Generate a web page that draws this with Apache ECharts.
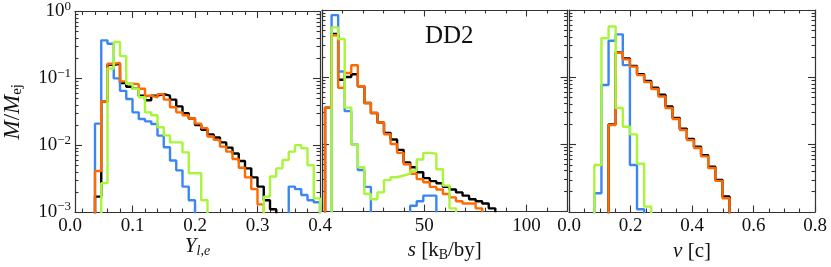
<!DOCTYPE html>
<html><head><meta charset="utf-8">
<script src="https://cdn.jsdelivr.net/npm/echarts@6/dist/echarts.min.js"></script>
<style>html,body{margin:0;padding:0;background:#fff}#c{width:831px;height:267px}</style>
</head><body><div id="c"></div>
<script>
// ================= DATA =================
// Panel 1 : Y_e histogram (bin edges)
const yeEdges = [0.03,0.04,0.05,0.06,0.07,0.08,0.09,0.10,0.11,0.12,0.13,0.14,0.15,0.16,0.17,0.18,0.19,0.20,0.21,0.22,0.23,0.24,0.25,0.26,0.27,0.28,0.29,0.30,0.31,0.32,0.33,0.34,0.35,0.36,0.37,0.38,0.39,0.40];
const yeBlack  = [0,0.0017,0.045,0.16,0.165,0.085,0.075,0.070,0.055,0.047,0.055,0.058,0.055,0.048,0.038,0.030,0.025,0.020,0.017,0.0145,0.013,0.011,0.0092,0.0075,0.0058,0.0045,0.0033,0.0024,0.0015,0.0011,0,0,0,0,0,0,0];
const yeOrange = [0,0.0041,0.045,0.165,0.17,0.09,0.083,0.082,0.070,0.055,0.052,0.058,0.048,0.037,0.031,0.028,0.025,0.021,0.018,0.0135,0.012,0.0095,0.0080,0.0062,0.0046,0.0033,0.0022,0.0013,0,0,0,0,0,0,0,0,0];
const yeBlue   = [0,0.021,0.37,0.33,0.10,0.065,0.049,0.031,0.0246,0.0227,0.0207,0.0139,0.0093,0.0059,0.0042,0.0024,0.0015,0,0,0,0,0,0,0,0,0,0,0,0,0,0,0,0.0024,0.0022,0.0018,0.0015,0.0014];
const yeGreen  = [0,0,0.0027,0.14,0.35,0.215,0.083,0.07,0.052,0.031,0.028,0.0185,0.014,0.011,0.011,0.0078,0.0038,0.0038,0.0015,0,0,0,0,0,0,0,0,0,0.0017,0.0034,0.0045,0.006,0.008,0.010,0.009,0.005,0.0016];

// Panel 2 : entropy s histogram
const sEdges = [1.5,4.7,7.9,11.1,14.3,17.5,20.7,23.9,27.1,30.3,33.5,36.7,39.9,43.1,46.3,49.5,52.7,55.9,59.1,62.3,65.5,68.7,71.9,75.1,78.3,81.5,84.7];
const sBlack  = [0.035,0.44,0.091,0.10,0.11,0.073,0.041,0.029,0.021,0.0147,0.0117,0.0082,0.0053,0.0045,0.0038,0.0031,0.0028,0.0026,0.0023,0.0021,0.0019,0.0017,0.0015,0.0014,0.0013,0.0011];
const sOrange = [0.035,0.42,0.069,0.115,0.15,0.073,0.041,0.029,0.021,0.014,0.010,0.0074,0.005,0.0036,0.003,0.0027,0.0023,0.0021,0.0018,0.0016,0.0014,0.0013,0.0013,0.0011,0,0];
const sBlue   = [0,0.84,0.121,0.031,0.0099,0.0041,0.0023,0,0,0,0,0,0,0.0012,0.0014,0.0017,0.0017,0,0,0,0,0,0,0,0,0];
const sGreen  = [0,0.55,0.37,0.035,0.0099,0.0045,0.0018,0.0015,0.0019,0.0029,0.0032,0.0034,0.0036,0.004,0.0059,0.0074,0.0072,0.0042,0.0024,0.0011,0,0,0,0,0,0];

// Panel 3 : velocity v histogram
const vEdges = [0.0824,0.1055,0.1287,0.1518,0.1750,0.1981,0.2212,0.2444,0.2675,0.2907,0.3138,0.3369,0.3601,0.3832,0.4064,0.4295,0.4526,0.4758,0.4989,0.5221];
const vBlack  = [0,0,0.020,0.235,0.19,0.147,0.111,0.088,0.070,0.055,0.037,0.025,0.0172,0.0122,0.0093,0.0070,0.0047,0.0030,0.0017];
const vOrange = [0,0,0.0196,0.232,0.185,0.144,0.108,0.085,0.067,0.052,0.035,0.024,0.0165,0.0117,0.0089,0.0067,0.0045,0.0029,0.0016];
const vBlue   = [0.0019,0.077,0.35,0.435,0.152,0.005,0.0011,0,0,0,0,0,0,0,0,0,0,0,0];
const vGreen  = [0.005,0.38,0.57,0.035,0.0185,0.0142,0.0052,0.0012,0,0,0,0,0,0,0,0,0,0,0];

// Ticks / labels
const yMinorTicks = [0.002,0.003,0.004,0.005,0.006,0.007,0.008,0.009,0.02,0.03,0.04,0.05,0.06,0.07,0.08,0.09,0.2,0.3,0.4,0.5,0.6,0.7,0.8,0.9];
const p1Labels = [0.0,0.1,0.2,0.3,0.4];
const p1Major = [0.1,0.2,0.3,0.4];
const p1Minor = [0.02,0.04,0.06,0.08,0.12,0.14,0.16,0.18,0.22,0.24,0.26,0.28,0.32,0.34,0.36,0.38];
const p2Labels = [50,100];
const p2Major = [0,50,100];
const p2Minor = [10,20,30,40,60,70,80,90,110];
const p3Labels = [0.0,0.2,0.4,0.6,0.8];
const p3Minor = [0.05,0.1,0.15,0.25,0.3,0.35,0.45,0.5,0.55,0.65,0.7,0.75];

// ================= CHART =================
const FONT = '"Liberation Serif","DejaVu Serif",serif';
const AX = '#333';
const TXT = '#111';
const FLOOR = 1e-6;
const colors = {black:'#000000', blue:'#3b86f4', orange:'#ff6a00', green:'#a8f53a'};

const grids = [
  {left:75, top:10, width:245, height:202},
  {left:322, top:10, width:245.5, height:202},
  {left:569, top:10, width:246, height:202},
  {left:70, top:10, width:250, height:202}
];
const xr = [[0.008,0.4],[0,120],[0,0.8]];
const xMaj = [p1Major,p2Major,p3Labels];
const xMin = [p1Minor,p2Minor,p3Minor];
const xLab = [null,p2Labels,p3Labels];
const xFmt = [v=>v.toFixed(1), v=>String(v), v=>v.toFixed(1)];
const xNames = ['{i|Y}{isub|l,e}', '{i|s} [k{sub|B}/by]', '{i|v} [c]'];
const TICKFS = 19;

const richBase = {
  i:{fontFamily:FONT,fontStyle:'italic',fontSize:21,color:TXT},
  isub:{fontFamily:FONT,fontStyle:'italic',fontSize:14,color:TXT,verticalAlign:'bottom',padding:[9,0,0,0]},
  sub:{fontFamily:FONT,fontSize:14,color:TXT,verticalAlign:'bottom',padding:[9,0,0,0]},
  r:{fontFamily:FONT,fontSize:21,color:TXT}
};
const richY = {
  i:{fontFamily:FONT,fontStyle:'italic',fontSize:23,color:TXT},
  sub:{fontFamily:FONT,fontSize:15,color:TXT,verticalAlign:'bottom',padding:[10,0,0,0]},
  r:{fontFamily:FONT,fontSize:23,color:TXT}
};
const tickLine = {color:AX,width:1.1};

const xAxis=[], yAxis=[];
for (let p=0;p<3;p++){
  const [mn,mx]=xr[p];
  const common={type:'value',gridIndex:p,min:mn,max:mx,splitLine:{show:false},axisLine:{onZero:false,show:false,lineStyle:{color:AX,width:1.2}}};
  xAxis.push(Object.assign({},common,{position:'bottom',
    axisLine:{onZero:false,show:true,lineStyle:{color:AX,width:1.2}},
    axisTick:{show:true,inside:true,length:6.5,customValues:xMaj[p],lineStyle:tickLine},
    axisLabel:{show:!!xLab[p],customValues:xLab[p]||[],formatter:xFmt[p],fontFamily:FONT,fontSize:TICKFS,color:TXT,margin:5},
    name:xNames[p],nameLocation:'middle',nameGap:23,nameTextStyle:{fontFamily:FONT,fontSize:21,color:TXT,rich:richBase}}));
  xAxis.push(Object.assign({},common,{position:'bottom',axisTick:{show:true,inside:true,length:3.5,customValues:xMin[p],lineStyle:tickLine},axisLabel:{show:false}}));
  xAxis.push(Object.assign({},common,{position:'top',axisLine:{onZero:false,show:true,lineStyle:{color:AX,width:1.2}},axisTick:{show:true,inside:true,length:6.5,customValues:xMaj[p],lineStyle:tickLine},axisLabel:{show:false}}));
  xAxis.push(Object.assign({},common,{position:'top',axisTick:{show:true,inside:true,length:3.5,customValues:xMin[p],lineStyle:tickLine},axisLabel:{show:false}}));

  const yc={gridIndex:p,splitLine:{show:false}};
  yAxis.push(Object.assign({},yc,{type:'log',min:0.001,max:1,logBase:10,position:'left',
    axisLine:{onZero:false,show:true,lineStyle:{color:AX,width:1.2}},
    axisTick:{show:true,inside:true,length:7,lineStyle:tickLine},
    axisLabel:{show:p===0,margin:4,formatter:v=>{const e=Math.round(Math.log10(v));return '{b|10}{s|'+(e<0?'\u2212'+(-e):e)+'}';},
      rich:{b:{fontFamily:FONT,fontSize:TICKFS,color:TXT},s:{fontFamily:FONT,fontSize:13,color:TXT,verticalAlign:'top',padding:[0,0,10,0]}}},
    name:p===0?'{i|M}{r|/}{i|M}{sub|ej}':'',nameLocation:'middle',nameGap:50,nameRotate:90,
    nameTextStyle:{fontFamily:FONT,fontSize:23,color:TXT,rich:richY}}));
  yAxis.push(Object.assign({},yc,{type:'value',min:-3,max:0,position:'left',axisLine:{onZero:false,show:false},
    axisTick:{show:true,inside:true,length:3.5,customValues:yMinorTicks.map(Math.log10),lineStyle:tickLine},axisLabel:{show:false}}));
  yAxis.push(Object.assign({},yc,{type:'log',min:0.001,max:1,logBase:10,position:'right',
    axisLine:{onZero:false,show:true,lineStyle:{color:AX,width:1.2}},
    axisTick:{show:true,inside:true,length:7,lineStyle:tickLine},axisLabel:{show:false}}));
  yAxis.push(Object.assign({},yc,{type:'value',min:-3,max:0,position:'right',axisLine:{onZero:false,show:false},
    axisTick:{show:true,inside:true,length:3.5,customValues:yMinorTicks.map(Math.log10),lineStyle:tickLine},axisLabel:{show:false}}));
}
xAxis.push({type:'value',gridIndex:3,min:0,max:0.4,position:'bottom',splitLine:{show:false},
  axisLine:{show:false,onZero:false},axisTick:{show:false},
  axisLabel:{show:true,customValues:p1Labels,formatter:v=>v.toFixed(1),fontFamily:FONT,fontSize:TICKFS,color:TXT,margin:5}});
yAxis.push({type:'log',gridIndex:3,min:0.001,max:1,show:false});

function hist(edges, vals){
  const d=[[edges[0],FLOOR]];
  for(let i=0;i<vals.length;i++) d.push([edges[i], vals[i]>0?vals[i]:FLOOR]);
  d.push([edges[vals.length],FLOOR]);
  return d;
}
const panels=[
  {edges:yeEdges, s:[yeBlack,yeBlue,yeOrange,yeGreen]},
  {edges:sEdges, s:[sBlack,sBlue,sOrange,sGreen]},
  {edges:vEdges, s:[vBlack,vBlue,vOrange,vGreen]}
];
const cols=[colors.black,colors.blue,colors.orange,colors.green];
const series=[];
panels.forEach((pn,p)=>{
  pn.s.forEach((vals,j)=>{
    series.push({type:'line',xAxisIndex:p*4,yAxisIndex:p*4,data:hist(pn.edges,vals),step:'end',
      symbol:'none',showSymbol:false,clip:true,lineStyle:{color:cols[j],width:2.4},itemStyle:{color:cols[j]},z:2+j,animation:false,silent:true});
  });
});

const chart=echarts.init(document.getElementById('c'),null,{renderer:'canvas'});
chart.setOption({
  animation:false,
  backgroundColor:'#fff',
  title:{text:'DD2',left:420,top:19,textStyle:{fontFamily:FONT,fontSize:25,fontWeight:'normal',color:TXT}},
  grid:grids,
  xAxis, yAxis, series
});
</script></body></html>
